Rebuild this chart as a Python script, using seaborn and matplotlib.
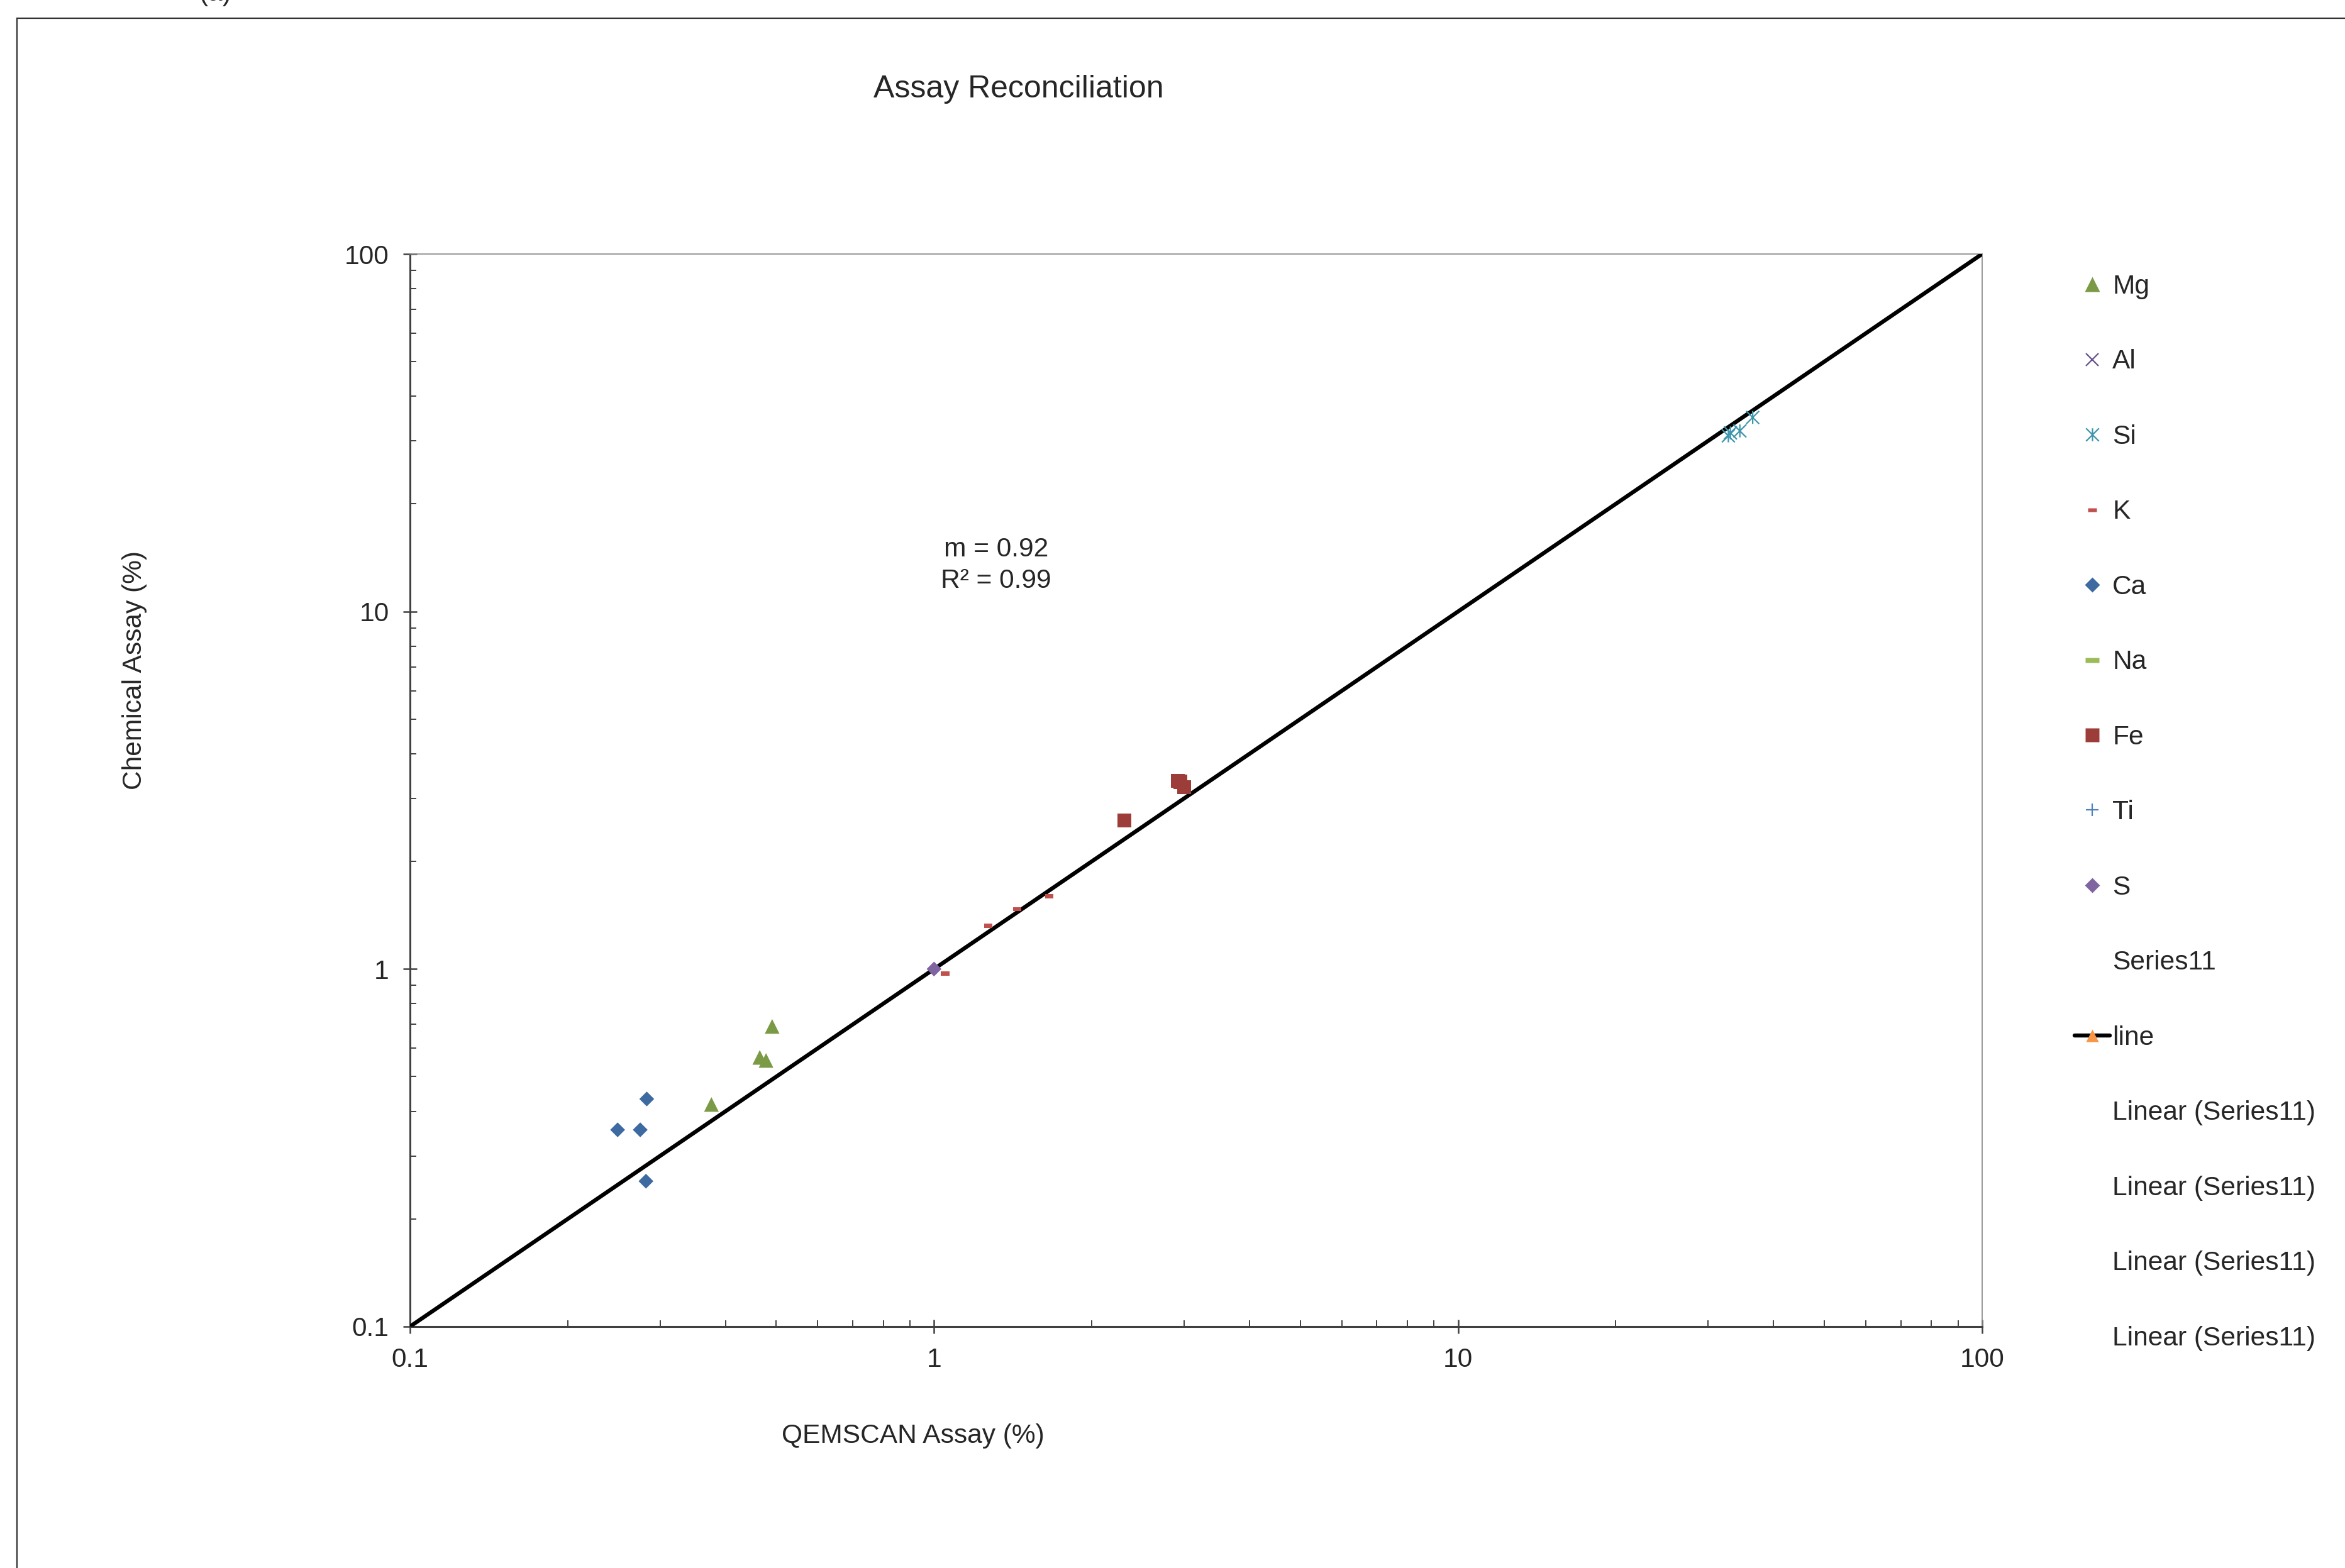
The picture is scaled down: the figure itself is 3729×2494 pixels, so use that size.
import numpy as np
import pandas as pd
import matplotlib
matplotlib.use("Agg")
import matplotlib.pyplot as plt
import seaborn as sns
from matplotlib.lines import Line2D
from matplotlib.path import Path
from matplotlib.patches import Rectangle
from matplotlib.ticker import FuncFormatter, NullFormatter, LogLocator

sns.set_theme(style="white")
plt.rcParams["font.family"] = ["Liberation Sans", "DejaVu Sans"]

# QEMSCAN (x) vs chemical assay (y), %
mg_x = [0.491, 0.465, 0.478, 0.376]
mg_y = [0.691, 0.566, 0.555, 0.418]
al_x = [5.23, 5.94, 6.82, 6.74]
al_y = [5.64, 6.60, 7.51, 6.72]
si_x = [36.5, 34.5, 33.1, 32.8]
si_y = [34.9, 32.0, 31.6, 31.0]
k_x = [1.05, 1.27, 1.44, 1.66]
k_y = [0.97, 1.32, 1.47, 1.60]
ca_x = [0.283, 0.249, 0.275, 0.282]
ca_y = [0.433, 0.355, 0.355, 0.255]
na_x = []
na_y = []
fe_x = [2.31, 2.92, 2.95, 3.00]
fe_y = [2.60, 3.36, 3.34, 3.23]
ti_x = [0.669, 0.571, 0.527, 0.581]
ti_y = [0.563, 0.498, 0.444, 0.452]
s_x = [1.00]
s_y = [1.00]

line_x = [0.1, 100]
line_y = [0.1, 100]

y_ticks = [0.1, 1, 10, 100]
x_ticks = [0.1, 1, 10, 100]
legend_labels = ["Mg", "Al", "Si", "K", "Ca", "Na", "Fe", "Ti", "S", "Series11", "line",
                 "Linear (Series11)", "Linear (Series11)", "Linear (Series11)", "Linear (Series11)"]

# custom marker shapes
asterisk = Path([(-1, -1), (1, 1), (-1, 1), (1, -1), (0, -1), (0, 1)],
                [Path.MOVETO, Path.LINETO, Path.MOVETO, Path.LINETO, Path.MOVETO, Path.LINETO])
dash = Path([(-1, -0.5), (1, -0.5), (1, 0.5), (-1, 0.5), (-1, -0.5)],
            [Path.MOVETO, Path.LINETO, Path.LINETO, Path.LINETO, Path.CLOSEPOLY])
long_dash = Path([(-1, -0.33), (1, -0.33), (1, 0.33), (-1, 0.33), (-1, -0.33)],
                 [Path.MOVETO, Path.LINETO, Path.LINETO, Path.LINETO, Path.CLOSEPOLY])

# element: (x, y, marker, color, marker size pt, filled)
series = {
    "Mg": (mg_x, mg_y, "^", "#7A9A46", 8.4, True),
    "Al": (al_x, al_y, "x", "#66528A", 7.3, False),
    "Si": (si_x, si_y, asterisk, "#3E95AD", 7.4, False),
    "K": (k_x, k_y, dash, "#C0504D", 4.8, True),
    "Ca": (ca_x, ca_y, "D", "#3D6AA0", 6.0, True),
    "Na": (na_x, na_y, long_dash, "#9BBB59", 8.0, True),
    "Fe": (fe_x, fe_y, "s", "#9C3D3A", 8.0, True),
    "Ti": (ti_x, ti_y, "+", "#4F81BD", 7.3, False),
    "S": (s_x, s_y, "D", "#8064A2", 6.0, True),
}

fig = plt.figure(figsize=(18.65, 12.47), dpi=200)
ax = fig.add_axes([0.1748, 0.154, 0.6702, 0.684])
ax.set(xscale="log", yscale="log")

sns.lineplot(x=line_x, y=line_y, color="black", lw=2.3, ax=ax, zorder=3)

for name, (xs, ys, mk, col, ms, filled) in series.items():
    if len(xs) == 0:
        continue
    df = pd.DataFrame({"qemscan": xs, "chemical": ys})
    if filled:
        sns.scatterplot(data=df, x="qemscan", y="chemical", marker=mk, color=col,
                        edgecolor="none", s=ms ** 2, ax=ax, zorder=4)
    else:
        sns.scatterplot(data=df, x="qemscan", y="chemical", marker=mk, color=col,
                        edgecolor=col, facecolor="none", linewidth=0.8, s=ms ** 2,
                        ax=ax, zorder=4)

ax.set_xlim(0.1, 100)
ax.set_ylim(0.1, 100)
ax.set_xticks(x_ticks)
ax.set_yticks(y_ticks)
fmt = FuncFormatter(lambda v, p: f"{v:g}")
ax.xaxis.set_major_formatter(fmt)
ax.yaxis.set_major_formatter(fmt)
ax.xaxis.set_minor_locator(LogLocator(base=10, subs=np.arange(2, 10)))
ax.yaxis.set_minor_locator(LogLocator(base=10, subs=np.arange(2, 10)))
ax.xaxis.set_minor_formatter(NullFormatter())
ax.yaxis.set_minor_formatter(NullFormatter())
ax.tick_params(which="major", direction="inout", length=8, width=0.9, color="#404040",
               labelsize=15.3, pad=8, bottom=True, left=True)
ax.tick_params(which="minor", direction="in", length=3.6, width=0.7, color="#404040",
               bottom=True, left=True)
ax.set_xlabel("")
ax.set_ylabel("")
for side in ["left", "bottom"]:
    ax.spines[side].set_color("#404040")
    ax.spines[side].set_linewidth(1.1)
for side in ["top", "right"]:
    ax.spines[side].set_color("#868686")
    ax.spines[side].set_linewidth(0.6)

# texts
fig.text(1620 / 3730, 1 - 142 / 2494, "Assay Reconciliation", ha="center", va="center", fontsize=18)
fig.text(1452 / 3730, 1 - 2284 / 2494, "QEMSCAN Assay (%)", ha="center", va="center", fontsize=15.3)
fig.text(214 / 3730, 1 - 1066 / 2494, "Chemical Assay (%)", ha="center", va="center",
         rotation=90, fontsize=15.3)
fig.text(1584 / 3730, 1 - 899 / 2494, "m = 0.92\nR² = 0.99", ha="center", va="center",
         fontsize=15.3, linespacing=1.3)
fig.text(316 / 3730, 1.004, "(a)", ha="left", va="center", fontsize=15.3)

# outer chart frame (cut off at right and bottom)
fig.patches.append(Rectangle((27 / 3730, -0.05), 1.1, 1 - 29 / 2494 + 0.05,
                             transform=fig.transFigure, fill=False, edgecolor="#333333",
                             linewidth=0.8, clip_on=False))

# legend
handles = []
for name in ["Mg", "Al", "Si", "K", "Ca", "Na", "Fe", "Ti", "S"]:
    _, _, mk, col, ms, filled = series[name]
    if filled:
        handles.append(Line2D([], [], linestyle="none", marker=mk, markersize=ms,
                              markerfacecolor=col, markeredgecolor="none"))
    else:
        handles.append(Line2D([], [], linestyle="none", marker=mk, markersize=ms,
                              markerfacecolor="none", markeredgecolor=col, markeredgewidth=0.8))
handles.append(Line2D([], [], linestyle="none"))
handles.append(Line2D([], [], color="black", lw=2.3, marker="^", markersize=7.2,
                      markerfacecolor="#F79646", markeredgecolor="none"))
for _ in range(4):
    handles.append(Line2D([], [], linestyle="none"))

fig.legend(handles, legend_labels, loc="upper left", bbox_to_anchor=(3299 / 3730, 1 - 436 / 2494),
           bbox_transform=fig.transFigure, frameon=False, fontsize=15.3, handlelength=1.32,
           handletextpad=0.1, labelspacing=1.87, borderpad=0, borderaxespad=0)

fig.savefig("out.png", dpi=200, facecolor="white")
